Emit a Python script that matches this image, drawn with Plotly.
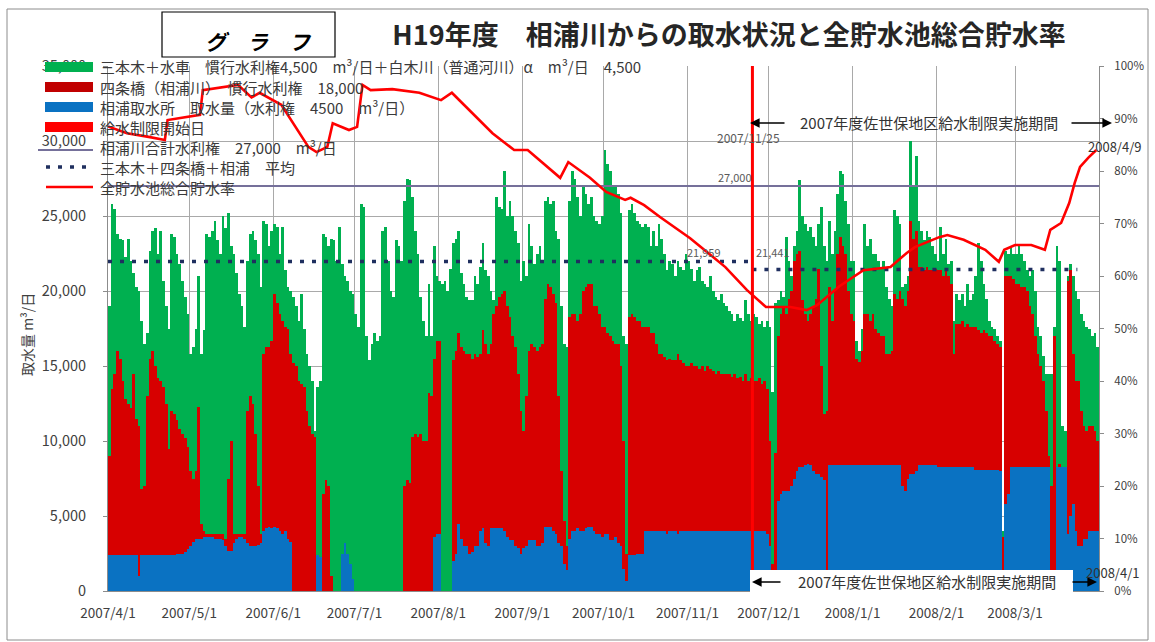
import pandas as pd
import plotly.graph_objects as go

# ---------------- data (m3/day, daily 2007/4/1 - 2008/3/31) ----------------
blue = [
    # Apr
    2400,2400,2400,2400,2400,2400,2400,2400,2400,2400, 2400,1000,2400,2400,2400,2400,2400,2400,2400,2400,
    2400,2400,2400,2400,2400,2500,2500,2500,2600,2800,
    # May
    3000,3300,3500,3500,3500,3600,3600,3600,3600,3500, 3500,3500,3400,3000,2700,2700,3200,3500,3600,3600,
    3500,3200,3000,3000,3000,3100,3200,4000,4200,4300, 4200,
    # Jun
    4300,4200,4000,3800,4000,3500,3300,0,0,0, 0,0,0,0,0,0,2400,2300,0,0,
    0,0,0,0,0,2500,3200,2500,1800,800,
    # Jul
    0,0,0,0,0,0,0,0,0,0, 0,0,0,0,0,0,0,0,0,0, 0,0,0,0,0,0,0,0,0,3600, 3800,
    # Aug
    3800,0,0,0,0,2000,2500,4500,3500,3000, 3000,2500,2600,3000,3000,4000,4200,3200,3000,4200,
    4200,4200,4200,4200,4000,3600,3400,3400,3000,2900, 2500,
    # Sep
    2900,3000,3400,3400,3400,3000,3000,3200,4300,4300, 4300,4000,3800,3200,3000,1800,1400,3500,4000,4000,
    4200,4000,4000,4200,4300,4300,4000,3800,3800,3600,
    # Oct
    3800,3800,3400,3400,3600,3200,3000,1500,700,2400, 2400,2400,2500,2500,2500,4000,4000,4000,4000,4000,
    4000,4000,4000,3800,4000,4000,4000,3800,4000,4000, 4000,
    # Nov
    4000,4000,4000,4000,4000,4000,4000,4000,4000,4000, 4000,4000,4000,4000,4000,4000,4000,4000,4000,4000,
    4000,4000,4000,4000,4000,4000,4000,4000,4000,3800,
    # Dec
    3000,1400,1400,6000,6500,6700,6700,6700,7000,7500, 8000,8300,8300,8400,8500,8400,8000,7800,7800,7600,
    7400,0,8400,8400,8400,8400,8400,8400,8400,8400, 8400,
    # Jan
    8400,8400,8400,8400,8400,8400,8400,8400,8400,8400, 8400,8400,8400,8400,8400,8400,8400,8400,7000,6700,
    7500,7800,7800,8000,8400,8400,8400,8400,8400,8400, 8400,
    # Feb
    8300,8300,8300,8300,8300,8300,8300,8300,8300,8300, 8300,8300,8300,8300,8100,8100,8100,8100,8100,8100,
    8100,8100,8100,8000,1000,5800,6500,8300,8300,
    # Mar
    8300,8300,8300,8300,8300,8300,8300,8300,8300,8300, 8300,8300,8300,0,0,8300,8300,8300,8300,3800,
    5000,5800,4000,3000,3000,3500,3500,4000,4000,4000, 4000,
]

red = [
    # Apr
    6600,11100,12100,13600,13100,11600,10400,10100,9800,12100, 9100,10000,4400,4600,10600,13100,13600,12600,11800,11600,
    11200,10100,7100,9600,9400,8900,8300,8000,7600,6800,
    # May
    5000,4200,4500,8800,1000,400,200,200,200,300, 300,300,400,500,4800,7300,600,300,200,200,
    300,8800,10000,9500,7500,3900,600,11800,12100,12000, 12500,
    # Jun
    15500,15000,14500,14200,13600,14000,12500,15200,15000,14000, 13800,13600,12000,11000,10500,10300,0,0,6500,7400,
    7000,1000,0,0,0,0,0,0,0,0,
    # Jul
    0,0,0,0,0,0,0,0,0,0, 0,0,0,0,0,0,0,0,7000,7400, 7200,10300,10500,10300,10500,10000,10000,13200,13000,11900, 12900,
    # Aug
    12900,0,0,0,0,13400,13500,12700,12800,13000, 12800,13300,12900,12800,12600,11800,13200,13300,12800,12300,
    14300,14800,15400,15600,16000,15400,14900,13600,13300,11600, 9500,
    # Sep
    7800,10000,12600,13100,12900,13000,13300,13300,15200,16200, 16000,15800,15400,9800,5000,2900,1600,14800,14500,14500,
    13800,14500,16000,16100,16200,16200,15000,15200,14700,14000,
    # Oct
    13800,13400,13600,13300,12900,13300,12000,8500,1800,15900, 16100,15900,15500,15500,15100,13600,13600,13200,13200,12500,
    11800,11800,11600,11600,11500,11400,11400,12000,11400,11200, 11000,
    # Nov
    11000,11200,11000,11000,10800,11000,10700,11000,10800,10700, 10500,10700,10500,10500,10500,10500,10300,10500,10200,10300,
    10000,10500,10000,10200,10000,10000,10200,9800,10000,9700,
    # Dec
    7000,400,7800,11000,12000,12300,11800,12800,13000,14500, 14500,14400,11100,10100,9500,10100,11000,11700,13700,7400,
    4400,12000,11900,9600,11600,14100,15200,14600,14100,11600, 10100,
    # Jan
    9600,7100,6900,7600,10100,10100,9600,10100,9100,8800, 8600,8600,7400,7400,7600,11400,11100,11600,12500,12300,
    12500,16900,15700,16000,13200,13200,13000,13200,13000,13000, 13100,
    # Feb
    13100,13100,12700,13100,12700,12200,7500,9500,9500,9700, 9300,9500,9300,9300,9500,9300,9100,9300,9100,8900,
    8900,8600,8400,8300,2600,15200,14500,12700,12500,
    # Mar
    12200,12200,12000,12000,11700,10700,10200,8700,7500,6700, 5700,3700,700,7000,17000,0,200,0,0,16900,
    16400,10000,10000,11000,9000,7500,7200,7000,7000,6700, 6000,
]

green = [
    # Apr
    10000,12300,11000,7800,8000,9400,9500,11000,9800,6700, 8800,9000,11200,9500,4200,7200,8000,9200,8300,10000,
    7100,6500,8000,11800,11800,11100,11000,10200,9400,8900,
    # May
    7800,8800,9500,8700,11300,13400,20000,19800,20200,20900, 19600,18700,21200,20700,17700,13000,18700,17400,16000,15200,
    13800,10000,10800,11500,12900,15500,16500,8900,8200,6700, 7300,
    # Jun
    4700,5100,4000,6300,3800,2800,4200,4400,4000,4000, 6000,3900,3800,4000,3500,400,11200,11700,17300,16200,
    16000,22500,23400,22000,24300,19300,17800,18200,18200,19000,
    # Jul
    18500,17600,25800,25600,17000,15400,16500,17200,16700,17000, 24000,24300,22000,20000,19600,23400,23000,22000,19000,20100,
    20200,16000,13500,12200,9100,8000,7000,7300,4000,7500, 4300,
    # Aug
    4000,20500,20700,20000,21500,7800,7500,6800,4900,4500, 3800,3600,3900,5200,4900,5800,5800,4900,5200,3500,
    900,7300,6000,5700,8000,6000,7700,8000,7700,8700, 8700,
    # Sep
    11300,8000,8500,6500,5500,6500,6700,5500,6500,5800, 5500,6200,4800,10500,11000,11800,13300,7700,9500,9000,
    8300,6500,7000,6200,5300,5800,6000,5700,6000,7400,
    # Oct
    11800,11300,11000,10300,10500,10000,10200,7000,14000,7100, 7300,6900,6700,6500,6700,6900,6700,5800,6800,6500,
    8700,7700,6900,6000,6500,6400,5600,6200,6200,6200, 7500,
    # Nov
    7000,6300,5700,6400,6800,5700,5800,5300,6200,5300, 5100,4700,5300,4700,4500,4200,4200,3500,4300,3900,
    4000,4900,4500,3800,4500,4300,3600,4200,3600,4500,
    # Dec
    7600,11500,10000,2400,1500,600,5100,2500,1000,1000, 1500,4700,5600,6000,6000,5800,4600,3500,3000,10600,
    11200,10000,4400,4500,4000,4000,4400,4800,3500,4500, 3500,
    # Jan
    4000,1200,700,1500,6000,4500,5500,4000,5000,4800, 4500,5000,4500,3700,3000,5600,5500,4500,800,1500,
    1000,5300,3500,5000,3100,2400,2000,2400,2200,1600, 1000,
    # Feb
    600,2900,1500,2100,800,1500,2200,2000,1600,1800, 1400,2700,1800,2200,3400,5800,4800,3100,2300,1000,
    600,800,500,400,400,1700,1500,2000,1700,
    # Mar
    2000,2500,2200,1700,1400,2000,2900,3000,1800,2000, 1700,2500,5500,7500,600,14700,13500,2700,2400,300,
    400,5200,6000,5500,6500,7000,6900,6500,6000,6500, 6300,
]

# total storage rate of all reservoirs (%), read at turning points of the line
rate_dates = [
    "2007-04-01","2007-04-08","2007-04-16","2007-04-22","2007-04-23","2007-05-05","2007-05-06","2007-05-13",
    "2007-05-19","2007-05-24","2007-05-27","2007-06-04","2007-06-14","2007-06-17","2007-06-21","2007-06-23",
    "2007-06-29","2007-07-02","2007-07-04","2007-07-07","2007-07-15","2007-07-25","2007-08-02","2007-08-06",
    "2007-08-21","2007-08-29","2007-09-03","2007-09-15","2007-09-18","2007-09-26","2007-10-02","2007-10-09",
    "2007-10-11","2007-10-16","2007-10-22","2007-11-02","2007-11-15","2007-11-23","2007-11-30","2007-12-09",
    "2007-12-15","2007-12-19","2007-12-27","2008-01-05","2008-01-15","2008-01-21","2008-01-24","2008-02-02",
    "2008-02-05","2008-02-11","2008-02-19","2008-02-24","2008-02-26","2008-03-01","2008-03-07","2008-03-12",
    "2008-03-14","2008-03-18","2008-03-21","2008-03-23","2008-03-25","2008-03-28","2008-03-31",
]
rate_values = [
    88.5,87.2,86.5,85.9,89.7,90.7,95.4,96.0,
    96.4,94.0,94.9,92.6,84.6,83.6,84.6,89.1,
    87.8,88.4,96.4,95.4,95.6,94.9,93.5,94.9,
    87.2,84.0,84.0,78.7,81.7,78.7,76.0,74.5,
    74.9,73.5,71.2,67.2,61.7,57.3,54.1,54.1,
    53.5,54.5,58.0,61.1,61.7,64.4,65.5,67.4,
    67.8,66.9,65.0,62.7,65.0,65.9,65.9,65.0,
    68.8,70.1,73.9,77.7,80.8,82.5,84.0,
]

water_right_total = 27000
avg_before = 21959
avg_after = 21441
restriction_start = "2007-11-25"
avg_end = "2008-03-24"

tick_dates = ["2007-04-01","2007-05-01","2007-06-01","2007-07-01","2007-08-01","2007-09-01",
              "2007-10-01","2007-11-01","2007-12-01","2008-01-01","2008-02-01","2008-03-01"]
tick_labels = ["2007/4/1","2007/5/1","2007/6/1","2007/7/1","2007/8/1","2007/9/1",
               "2007/10/1","2007/11/1","2007/12/1","2008/1/1","2008/2/1","2008/3/1"]

name_green = "三本木＋水車　慣行水利権4,500　m³/日＋白木川（普通河川）α　m³/日　4,500"
name_red = "四条橋（相浦川）　慣行水利権　18,000"
name_blue = "相浦取水所　取水量（水利権　4500　m³/日）"
name_start = "給水制限開始日"
name_right = "相浦川合計水利権　27,000　m³/日"
name_avg = "三本木＋四条橋＋相浦　平均"
name_rate = "全貯水池総合貯水率"

C_GREEN = "#00B050"
C_RED = "#D70000"
C_BLUE = "#0A72C2"
C_LINE = "#FF0000"
C_PURPLE = "#75709A"
C_NAVY = "#1F2F5F"
FONT = "Noto Sans CJK JP"

dates = pd.date_range("2007-04-01", "2008-03-31", freq="D")

# ---------------- figure ----------------
W, H = 1155, 642
L, R, T, B = 108, 1099, 66, 591


def px(x):
    return (x - L) / (R - L)


def py(y):
    return (B - y) / (B - T)


fig = go.Figure()
for vals, nm, col in [(blue, name_blue, C_BLUE), (red, name_red, C_RED), (green, name_green, C_GREEN)]:
    fig.add_trace(go.Bar(x=dates, y=vals, name=nm, marker=dict(color=col, line=dict(width=0)),
                         xperiod=86400000, xperiodalignment="middle"))

fig.add_trace(go.Scatter(x=["2007-04-01", "2008-04-01"], y=[water_right_total] * 2, mode="lines",
                         name=name_right, line=dict(color=C_PURPLE, width=2.2)))
fig.add_trace(go.Scatter(x=["2007-04-01", restriction_start], y=[avg_before] * 2, mode="lines",
                         name=name_avg, line=dict(color=C_NAVY, width=3.5, dash="4px,8px")))
fig.add_trace(go.Scatter(x=[restriction_start, avg_end], y=[avg_after] * 2, mode="lines",
                         name=name_avg, line=dict(color=C_NAVY, width=3.5, dash="4px,8px"), showlegend=False))
fig.add_trace(go.Scatter(x=[restriction_start, restriction_start], y=[0, 35000], mode="lines",
                         name=name_start, line=dict(color=C_LINE, width=3)))
fig.add_trace(go.Scatter(x=rate_dates, y=rate_values, mode="lines", name=name_rate, yaxis="y2",
                         line=dict(color=C_LINE, width=2.6)))

grid = "#A9A9A9"
fig.update_layout(
    width=W, height=H,
    margin=dict(l=L, r=W - R, t=T, b=H - B),
    paper_bgcolor="white", plot_bgcolor="white",
    barmode="stack", bargap=0,
    showlegend=False,
    font=dict(family=FONT, size=13, color="#404040"),
    title=dict(text="<b>H19年度　相浦川からの取水状況と全貯水池総合貯水率</b>",
               x=729 / W, y=1 - 36 / H, xref="container", yref="container",
               xanchor="center", yanchor="middle",
               font=dict(family=FONT, size=27, color="#262626")),
    xaxis=dict(type="date", range=["2007-04-01", "2008-04-01"], tickvals=tick_dates, ticktext=tick_labels,
               showgrid=True, gridcolor=grid, gridwidth=1, showline=True, linecolor="#8C8C8C",
               ticks="", tickfont=dict(size=13.5, color="#404040"), ticklabelstandoff=10),
    yaxis=dict(range=[0, 35000], dtick=5000, tickformat=",d", showgrid=True, gridcolor=grid, gridwidth=1,
               showline=True, linecolor="#8C8C8C", ticks="outside", ticklen=4, tickcolor="#8C8C8C",
               tickfont=dict(size=14.5, color="#404040"), ticklabelstandoff=14, zeroline=False),
    yaxis2=dict(range=[0, 100], dtick=10, ticksuffix="%", overlaying="y", side="right", showgrid=False,
                showline=True, linecolor="#8C8C8C", ticks="outside", ticklen=4, tickcolor="#8C8C8C",
                tickfont=dict(size=11.5, color="#404040"), ticklabelstandoff=8, zeroline=False),
)

shapes = []
ann = []


def note(text, x, y, size, color="#333333", xanchor="center", **kw):
    ann.append(dict(text=text, xref="paper", yref="paper", x=px(x), y=py(y), showarrow=False,
                    xanchor=xanchor, yanchor="middle", font=dict(family=FONT, size=size, color=color), **kw))


def arrow(x, y, ax):
    ann.append(dict(text="", xref="paper", yref="paper", x=px(x), y=py(y), ax=ax, ay=0, showarrow=True,
                    xanchor="center", yanchor="middle",
                    arrowhead=2, arrowsize=1.2, arrowwidth=1.6, arrowcolor="black"))


# outer chart border
shapes.append(dict(type="rect", xref="paper", yref="paper", x0=px(7), x1=px(1148), y0=py(9), y1=py(640),
                   line=dict(color="#8C8C8C", width=1), layer="below"))
# "グラフ" box
shapes.append(dict(type="rect", xref="paper", yref="paper", x0=px(162), x1=px(335), y0=py(12), y1=py(57),
                   line=dict(color="black", width=1.2), fillcolor="white", layer="above"))
note("<i><b>グ　ラ　フ</b></i>", 258, 41, 21, color="black")

# manual legend
rows = [67, 87, 107, 127, 147, 167, 187]
legend_items = [
    ("bar", C_GREEN, name_green),
    ("bar", "#C00000", name_red),
    ("bar", C_BLUE, name_blue),
    ("bar", C_LINE, name_start),
    ("line", C_PURPLE, name_right),
    ("dot", C_NAVY, name_avg),
    ("line", C_LINE, name_rate),
]
for yy, (kind, col, txt) in zip(rows, legend_items):
    if kind == "bar":
        shapes.append(dict(type="rect", xref="paper", yref="paper", x0=px(45), x1=px(93),
                           y0=py(yy + 5), y1=py(yy - 5), fillcolor=col, line=dict(width=0), layer="above"))
    elif kind == "line":
        lw = 2.2 if col == C_PURPLE else 2.6
        ly = yy + 3 if col == C_PURPLE else yy
        x0 = 38 if col == C_PURPLE else 46
        shapes.append(dict(type="line", xref="paper", yref="paper", x0=px(x0), x1=px(93), y0=py(ly), y1=py(ly),
                           line=dict(color=col, width=lw), layer="above"))
    else:
        shapes.append(dict(type="line", xref="paper", yref="paper", x0=px(46), x1=px(93), y0=py(yy), y1=py(yy),
                           line=dict(color=col, width=3.5, dash="4px,8px"), layer="above"))
    note(txt, 98, yy, 15, color="#3A3A3A", xanchor="left")

# value labels
note("27,000", 735, 177, 11, color="#5A5A5A")
note("21,959", 704, 252, 11, color="#5A5A5A")
note("21,441", 773, 252, 11, color="#5A5A5A")
note("2007/11/25", 748, 137, 12, color="#5A5A5A")
note("2008/4/9", 1114, 146, 13)

# restriction period arrows (top)
period_txt = "2007年度佐世保地区給水制限実施期間"
note(period_txt, 929, 122, 15)
arrow(750, 123, 36)
arrow(1112, 123, -42)

# restriction period arrows (bottom) with white box
shapes.append(dict(type="rect", xref="paper", yref="paper", x0=px(750), x1=px(1073), y0=py(570), y1=py(592),
                   fillcolor="white", line=dict(width=0), layer="above"))
note(period_txt, 927, 581, 15)
arrow(752, 582, 30)
arrow(1097, 582, -26)
note("2008/4/1", 1112, 572, 13)

# y axis title
note("取水量 m³/日", 27, 335, 14, color="#404040", textangle=-90)

fig.update_layout(shapes=shapes, annotations=ann)
fig.write_html("out.html", config={"displayModeBar": False},
               post_script="document.body.style.margin='0px';document.body.style.overflow='hidden';")
